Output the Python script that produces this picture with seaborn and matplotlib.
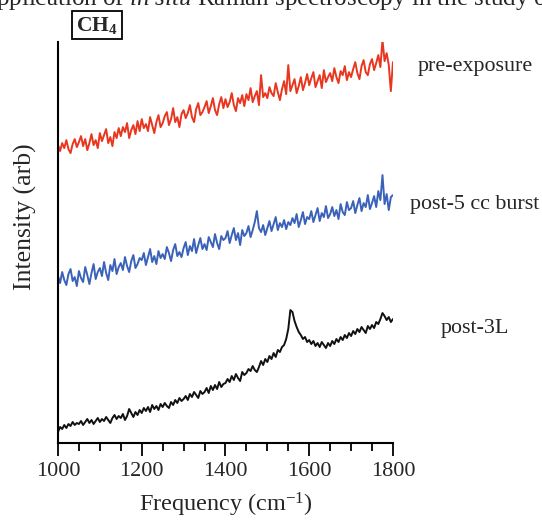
import numpy as np
import pandas as pd
import matplotlib
matplotlib.use('Agg')
import matplotlib.pyplot as plt
from matplotlib.ticker import MultipleLocator
import seaborn as sns

# Raman spectra, 1000-1800 cm-1 every 5 cm-1 (offset intensities)
freq = np.arange(1000, 1801, 5)

pre_exposure = [
    298, 292, 300, 295, 303, 294, 290, 299, 304, 296,
    301, 307, 297, 304, 293, 300, 309, 298, 303, 295,
    310, 302, 308, 314, 300, 306, 297, 311, 305, 315,
    307, 316, 311, 320, 305, 313, 318, 309, 322, 312,
    324, 315, 319, 312, 326, 318, 310, 321, 328, 316,
    320, 327, 331, 318, 324, 335, 321, 326, 316, 329,
    333, 325, 330, 338, 326, 321, 334, 340, 328, 331,
    336, 342, 330, 337, 345, 333, 328, 339, 346, 335,
    344, 336, 341, 350, 338, 332, 345, 340, 348, 337,
    349, 343, 355, 341, 347, 352, 338, 368, 346, 350,
    345, 356, 350, 347, 360, 351, 343, 354, 362, 349,
    378, 352, 358, 364, 350, 357, 366, 353, 360, 369,
    358, 365, 371, 356, 362, 368, 355, 373, 361, 366,
    370, 362, 375, 366, 360, 372, 368, 377, 363, 371,
    366, 374, 381, 370, 364, 377, 383, 371, 368, 379,
    384, 373, 380, 388, 376, 403, 382, 390, 378, 352,
    381,
]

post_5cc = [
    167, 160, 171, 163, 158, 169, 174, 162, 166, 157,
    172, 165, 161, 176, 168, 159, 170, 179, 164, 171,
    175, 167, 181, 170, 163, 178, 172, 184, 169, 176,
    180, 173, 186, 177, 171, 182, 188, 175, 179, 185,
    183, 190, 178, 186, 194, 181, 187, 179, 192, 185,
    189, 184, 196, 190, 182, 193, 199, 187, 191, 186,
    195, 201, 188, 197, 192, 204, 190, 198, 205, 194,
    199, 193, 206, 201, 196, 209, 200, 194, 207, 203,
    205, 212, 200, 208, 215, 203, 210, 198, 213, 207,
    210, 217, 206, 213, 221, 232, 215, 211, 218, 208,
    215, 222, 212, 219, 226, 213, 220, 216, 223, 214,
    221, 218, 225, 220, 229, 216, 223, 231, 219, 226,
    224, 232, 221, 228, 235, 222, 230, 226, 237, 225,
    229, 236, 227, 233, 224, 239, 231, 228, 241, 233,
    235, 242, 230, 238, 245, 232, 240, 236, 248, 234,
    240, 247, 236, 252, 243, 268, 239, 249, 233, 246,
    248,
]

post_3L = [
    11, 16, 14, 18, 15, 19, 17, 21, 18, 20,
    19, 22, 18, 21, 24, 20, 23, 19, 22, 25,
    21, 24, 22, 26, 23, 20, 25, 28, 24, 27,
    25, 29, 23, 27, 34, 30, 26, 31, 28, 33,
    30, 35, 32, 36, 31, 38, 34, 37, 33, 39,
    36, 40, 37, 35, 41, 38, 43, 40, 45, 42,
    44, 47, 43, 49, 46, 51, 48, 45, 52, 49,
    51, 55, 50, 57, 53, 58, 54, 61, 56, 59,
    60, 64, 61, 67, 63, 69, 65, 62, 71, 68,
    70, 74, 72, 77, 73, 71, 76, 82, 78, 84,
    81, 87, 84, 90, 86, 93, 91, 96, 98, 104,
    114, 133, 131, 122, 116, 111, 108, 104, 106, 101,
    103, 99, 102, 97, 100, 96, 101, 98, 95, 100,
    97, 102, 99, 104, 101, 106, 103, 108, 105, 110,
    107, 112, 109, 114, 111, 116, 113, 110, 117, 114,
    118, 115, 121, 119, 124, 130, 127, 123, 126, 121,
    124,
]

labels = ['pre-exposure', 'post-5 cc burst', 'post-3L']
colors = ['#e8361f', '#3a62b8', '#111111']

df = pd.concat([
    pd.DataFrame({'freq': freq, 'intensity': vals, 'sample': name})
    for name, vals in zip(labels, [pre_exposure, post_5cc, post_3L])
])

sns.set_style('ticks')
plt.rcParams['font.family'] = ['Liberation Serif', 'DejaVu Serif']
plt.rcParams['mathtext.fontset'] = 'custom'
plt.rcParams['mathtext.rm'] = 'Liberation Serif'
plt.rcParams['mathtext.it'] = 'Liberation Serif:italic'
plt.rcParams['mathtext.bf'] = 'Liberation Serif:bold'

fig = plt.figure(figsize=(5.42, 5.24), dpi=100)
ax = fig.add_axes([0.107, 0.1546, 0.618, 0.765])

sns.lineplot(data=df, x='freq', y='intensity', hue='sample', palette=colors,
             estimator=None, sort=False, linewidth=1.4, legend=False, ax=ax)

ax.set_xlim(1000, 1800)
ax.set_ylim(0, 401)
ax.xaxis.set_major_locator(MultipleLocator(200))
ax.xaxis.set_minor_locator(MultipleLocator(50))
ax.tick_params(axis='x', which='major', direction='out', length=9, width=1.3,
               labelsize=16, pad=5, color='black')
ax.tick_params(axis='x', which='minor', direction='out', length=5.5, width=1.3, color='black')
ax.set_yticks([])
for side in ['top', 'right']:
    ax.spines[side].set_visible(False)
for side in ['left', 'bottom']:
    ax.spines[side].set_linewidth(1.5)
    ax.spines[side].set_color('black')

ax.set_xlabel('Frequency (cm$^{\\mathrm{-1}}$)', fontsize=17.5)
ax.xaxis.set_label_coords(0.5, -0.12)
ax.set_ylabel('Intensity (arb)', fontsize=18.5)
ax.yaxis.set_label_coords(-0.064, 0.565)

# series labels to the right of the traces
for name, ypix in zip(labels, [67, 205, 329]):
    fig.text(475 / 542, 1 - ypix / 524, name, ha='center', va='center', fontsize=15.8)

# CH4 box
fig.text(97 / 542, 1 - 25 / 524, r'CH$_\mathbf{4}$', ha='center', va='center',
         fontsize=15.5, fontweight='bold',
         bbox=dict(boxstyle='square,pad=0.18', facecolor='white', edgecolor='black', linewidth=1.3))

# caption text cut off at the top of the crop
fig.text(0.5, 1 - 5 / 524, r'application of $\it{in\ situ}$ Raman spectroscopy in the study of',
         ha='center', va='baseline', fontsize=18)

fig.savefig('out.png', dpi=100)
